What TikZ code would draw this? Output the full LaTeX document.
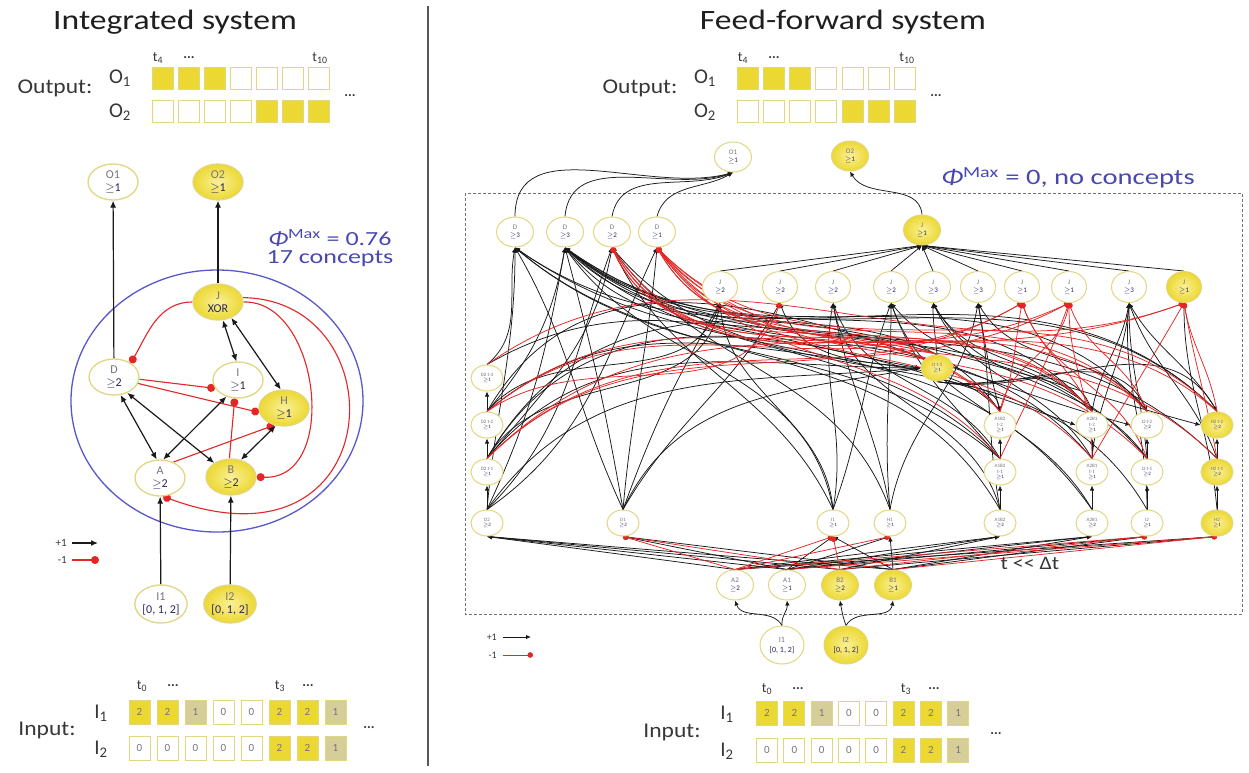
\documentclass[tikz,border=0pt]{standalone}
\usepackage{fontspec}
\setmainfont{Carlito}
\usetikzlibrary{arrows.meta,shapes.geometric}
\definecolor{ycol}{RGB}{236,216,50}
\definecolor{ylight}{RGB}{250,240,150}
\definecolor{yborder}{RGB}{226,214,128}
\definecolor{khaki}{RGB}{214,206,152}
\definecolor{ringblue}{RGB}{88,88,200}
\definecolor{phiblue}{RGB}{72,72,178}
\definecolor{redc}{RGB}{228,38,38}
\definecolor{lblgray}{RGB}{125,112,125}
\definecolor{thrc}{RGB}{40,40,90}
\definecolor{txtc}{RGB}{55,55,55}
\pgfdeclarelayer{back}
\pgfdeclarelayer{bg}
\pgfsetlayers{back,bg,main}
\newcommand{\nlbl}[2]{{\color{lblgray}#1}\\{\color{thrc}$\geq$#2}}
\newcommand{\nlblt}[3]{{\color{lblgray}#1}\\{\color{lblgray}#2}\\{\color{thrc}$\geq$#3}}
\tikzset{
  nd/.style={ellipse, draw=yborder, fill=white, inner sep=0pt, align=center},
  lnd/.style={nd, line width=1.3pt, minimum width=50pt, minimum height=36pt, font=\fontsize{12}{13}\selectfont},
  rnd/.style={nd, line width=1pt, minimum width=37pt, minimum height=30pt, font=\fontsize{7}{8}\selectfont},
  cnd/.style={nd, line width=1pt, minimum width=32pt, minimum height=26pt, font=\fontsize{5}{5.6}\selectfont},
  yel/.style={inner color=ylight, outer color=ycol},
  bx/.style={draw=yborder, line width=1pt, minimum width=21pt, minimum height=22pt, inner sep=0pt, font=\fontsize{11}{11}\selectfont\color{lblgray}},
  bx2/.style={fill=ycol}, bx1/.style={fill=khaki}, bx0/.style={fill=white},
  ob1/.style={fill=ycol}, ob0/.style={fill=white},
  exc/.style={draw=black!90, line width=1.2pt, -{Latex[length=7pt,width=6pt]}},
  exctwo/.style={draw=black!90, line width=1.2pt, {Latex[length=7pt,width=6pt]}-{Latex[length=7pt,width=6pt]}},
  inh/.style={draw=redc, line width=1.1pt, -{Circle[length=8pt]}},
  rexc/.style={draw=black!90, line width=0.75pt, -{Latex[length=5pt,width=4.5pt]}},
  rinh/.style={draw=redc, line width=0.75pt, -{Circle[length=5.5pt]}},
  big/.style={font=\fontsize{21}{24}\selectfont, text=txtc, inner sep=0pt},
  mid/.style={font=\fontsize{14}{15}\selectfont, text=txtc, inner sep=0pt},
  small/.style={font=\fontsize{11}{12}\selectfont, text=txtc, inner sep=0pt},
}
\begin{document}
\begin{tikzpicture}[x=1pt,y=-1pt]
\useasboundingbox (0,0) rectangle (1249,772);
\begin{pgfonlayer}{back}
\fill[white] (0,0) rectangle (1249,772);
\draw[black!65, line width=1.2pt] (428,6) -- (428,766);
\draw[black!55, line width=1pt, dash pattern=on 3pt off 2pt] (465,193) rectangle (1242,614);
\draw[ringblue, line width=1.3pt] (217,401) ellipse [x radius=146pt, y radius=131pt];
\end{pgfonlayer}

% ---------- titles ----------
\node[font=\fontsize{28}{30}\selectfont, text=black!88] (ltitle) at (175,22) {\scalebox{1.2}[1]{Integrated system}};
\node[font=\fontsize{28}{30}\selectfont, text=black!88] (rtitle) at (843,22) {\scalebox{1.2}[1]{Feed-forward system}};

% ---------- output rows ----------
\node[big] (lout) at (55,88) {\scalebox{1.12}[1]{Output:}};
\node[big] (lo1) at (120,78) {O\textsubscript{1}};
\node[big] (lo2) at (120,112) {O\textsubscript{2}};
\foreach \f [count=\k from 0] in {1,1,1,0,0,0,0}
  \node[bx, ob\f] (lob1-\k) at ({162.5+26*\k},78.5) {};
\foreach \f [count=\k from 0] in {0,0,0,0,1,1,1}
  \node[bx, ob\f] (lob2-\k) at ({162.5+26*\k},111.5) {};
\node[mid] (lt4) at (158,58) {t\textsubscript{4}};
\node[mid] (ld1) at (189,58) {\textbf{...}};
\node[mid] (lt10) at (320,58) {t\textsubscript{10}};
\node[mid] (ld2) at (350,96) {\textbf{...}};

\node[big] (rout) at (640,88) {\scalebox{1.12}[1]{Output:}};
\node[big] (ro1) at (705,78) {O\textsubscript{1}};
\node[big] (ro2) at (705,112) {O\textsubscript{2}};
\foreach \f [count=\k from 0] in {1,1,1,0,0,0,0}
  \node[bx, ob\f] (rob1-\k) at ({747.5+26.3*\k},78.5) {};
\foreach \f [count=\k from 0] in {0,0,0,0,1,1,1}
  \node[bx, ob\f] (rob2-\k) at ({747.5+26.3*\k},111.5) {};
\node[mid] (rt4) at (743,58) {t\textsubscript{4}};
\node[mid] (rd1) at (774,58) {\textbf{...}};
\node[mid] (rt10) at (907,58) {t\textsubscript{10}};
\node[mid] (rd2) at (936,96) {\textbf{...}};

% ---------- input rows ----------
\node[big] (lin) at (47,730) {\scalebox{1.12}[1]{Input:}};
\node[big] (li1) at (101,713) {I\textsubscript{1}};
\node[big] (li2) at (101,749) {I\textsubscript{2}};
\foreach \v [count=\k from 0] in {2,2,1,0,0,2,2,1}
  \node[bx, minimum height=24pt, bx\v] (lib1-\k) at ({139.5+28*\k},712) {\v};
\foreach \v [count=\k from 0] in {0,0,0,0,0,2,2,1}
  \node[bx, minimum height=24pt, bx\v] (lib2-\k) at ({139.5+28*\k},748) {\v};
\node[mid] (lt0) at (142,686) {t\textsubscript{0}};
\node[mid] (ld3) at (173,686) {\textbf{...}};
\node[mid] (lt3) at (280,686) {t\textsubscript{3}};
\node[mid] (ld4) at (308,686) {\textbf{...}};
\node[mid] (ld5) at (369,728) {\textbf{...}};

\node[big] (rin) at (672,732) {\scalebox{1.12}[1]{Input:}};
\node[big] (ri1) at (727,714) {I\textsubscript{1}};
\node[big] (ri2) at (727,751) {I\textsubscript{2}};
\foreach \v [count=\k from 0] in {2,2,1,0,0,2,2,1}
  \node[bx, minimum height=24pt, bx\v] (rib1-\k) at ({767+27.3*\k},713) {\v};
\foreach \v [count=\k from 0] in {0,0,0,0,0,2,2,1}
  \node[bx, minimum height=24pt, bx\v] (rib2-\k) at ({767+27.3*\k},750) {\v};
\node[mid] (rt0) at (767,689) {t\textsubscript{0}};
\node[mid] (rd3) at (798,689) {\textbf{...}};
\node[mid] (rt3) at (906,689) {t\textsubscript{3}};
\node[mid] (rd4) at (934,689) {\textbf{...}};
\node[mid] (rd5) at (996,734) {\textbf{...}};

% ---------- phi texts ----------
\node[font=\fontsize{20}{22}\selectfont, text=phiblue] (lphi1) at (330,238) {\scalebox{1.3}[1]{{\itshape Φ}\textsuperscript{Max} = 0.76}};
\node[font=\fontsize{20}{22}\selectfont, text=phiblue] (lphi2) at (330,259) {\scalebox{1.3}[1]{17 concepts}};
\node[font=\fontsize{22}{24}\selectfont, text=phiblue] (rphi) at (1068,178) {\scalebox{1.3}[1]{{\itshape Φ}\textsuperscript{Max} = 0, no concepts}};
\node[font=\fontsize{19}{20}\selectfont, text=txtc] (tau) at (1030,563) {\scalebox{1.15}[1]{t {\textless}{\textless} Δt}};

% ---------- legends ----------
\node[small, anchor=east] (lp) at (67,543) {+1};
\node[small, anchor=east] (lm) at (67,560) {-1};
\coordinate (lpa) at (72,543); \coordinate (lpb) at (98,543);
\coordinate (lma) at (72,560); \coordinate (lmb) at (99,560);
\draw[exc] (lpa) -- (lpb);
\draw[inh] (lma) -- (lmb);
\node[small, anchor=east, font=\fontsize{10}{11}\selectfont] (rp1) at (497,637) {+1};
\node[small, anchor=east, font=\fontsize{10}{11}\selectfont] (rm1) at (497,655) {-1};
\coordinate (rpa) at (503,637); \coordinate (rpb) at (531,637);
\coordinate (rma) at (503,655); \coordinate (rmb) at (533,655);
\draw[rexc, line width=0.9pt] (rpa) -- (rpb);
\draw[rinh, line width=0.9pt] (rma) -- (rmb);

% ---------- left network ----------
\node[lnd] (lO1) at (113,182) {\nlbl{O1}{1}};
\node[lnd, yel] (lO2) at (218,182) {\nlbl{O2}{1}};
\node[lnd, yel] (lJ) at (218,302) {{\color{lblgray}J}\\{\color{thrc}XOR}};
\node[lnd] (lD) at (114,377) {\nlbl{D}{2}};
\node[lnd] (lI) at (238,380) {\nlbl{I}{1}};
\node[lnd, yel] (lH) at (284,408) {\nlbl{H}{1}};
\node[lnd] (lA) at (160,478) {\nlbl{A}{2}};
\node[lnd, yel] (lB) at (231,477) {\nlbl{B}{2}};
\node[lnd, minimum width=46pt, minimum height=38pt] (lIn1) at (161,604) {{\color{lblgray}I1}\\{\color{thrc}[0, 1, 2]}};
\node[lnd, yel, minimum width=46pt, minimum height=38pt] (lIn2) at (230,604) {{\color{lblgray}I2}\\{\color{thrc}[0, 1, 2]}};

\begin{pgfonlayer}{bg}
\draw[exc] (lD) -- (lO1);
\draw[exc] (lJ) -- (lO2);
\draw[exctwo] (lJ.-75) -- (lI.95);
\draw[exctwo] (lJ.-50) -- (lH.100);
\draw[inh] (lJ.west) to[out=180,in=60] (lD.40);
\draw[inh] (lJ.east) .. controls (320,300) and (340,480) .. (lB.east);
\draw[inh] (lJ.10) .. controls (400,300) and (390,580) .. (lA.-80);
\draw[inh] (lD.-5) -- (lI.200);
\draw[inh] (lD.-15) -- (lH.190);
\draw[inh] (lB.95) -- (lI.260);
\draw[inh] (lA.50) -- (lH.240);
\draw[exctwo] (lD.-70) -- (lA.100);
\draw[exctwo] (lD.-50) -- (lB.140);
\draw[exctwo] (lA.80) -- (lI.235);
\draw[exctwo] (lH.-115) -- (lB.60);
\draw[exc] (lIn1) -- (lA);
\draw[exc] (lIn2) -- (lB);
\end{pgfonlayer}

% ---------- right network ----------
\node[rnd] (rO1) at (733,157) {\nlbl{O1}{1}};
\node[rnd, yel] (rO2) at (850,156) {\nlbl{O2}{1}};
\node[rnd] (rDa) at (515,232) {\nlbl{D}{3}};
\node[rnd] (rDb) at (565,232) {\nlbl{D}{3}};
\node[rnd] (rDc) at (612,232) {\nlbl{D}{2}};
\node[rnd] (rDd) at (657,232) {\nlbl{D}{1}};
\node[rnd, yel] (rJ) at (922,230) {\nlbl{J}{1}};
\foreach \x/\th/\n in {720/2/1,780/2/2,833/2/3,891/2/4,933/3/5,978/3/6,1022/1/7,1069/1/8,1129/3/9}
  \node[rnd, minimum width=35pt, minimum height=31pt] (rJ\n) at (\x,287) {\nlbl{J}{\th}};
\node[rnd, yel, minimum width=35pt, minimum height=31pt] (rJ10) at (1184,287) {\nlbl{J}{1}};

\node[cnd] (rD2t3) at (487,378) {\nlbl{D2 t-3}{1}};
\node[cnd] (rD2t2) at (487,425) {\nlbl{D2 t-2}{1}};
\node[cnd] (rD2t1) at (487,472) {\nlbl{D2 t-1}{1}};
\node[cnd] (rD2) at (487,523) {\nlbl{D2}{2}};
\node[cnd] (rD1) at (623,523) {\nlbl{D1}{2}};
\node[cnd] (rI1) at (833,523) {\nlbl{I1}{1}};
\node[cnd] (rH1) at (890,523) {\nlbl{H1}{1}};
\node[cnd, yel] (rIt3) at (937,368) {\nlbl{I1 t-3}{1}};
\node[cnd] (rABa2) at (1000,425) {\nlblt{A1B2}{t-2}{1}};
\node[cnd] (rABa1) at (1000,472) {\nlblt{A1B2}{t-1}{1}};
\node[cnd] (rABa) at (1000,523) {\nlbl{A1B2}{2}};
\node[cnd] (rABb2) at (1092,425) {\nlblt{A2B1}{t-2}{1}};
\node[cnd] (rABb1) at (1092,472) {\nlblt{A2B1}{t-1}{1}};
\node[cnd] (rABb) at (1092,523) {\nlbl{A2B1}{2}};
\node[cnd] (rI2t2) at (1147,425) {\nlbl{I2 t-2}{2}};
\node[cnd] (rI2t1) at (1147,472) {\nlbl{I2 t-1}{2}};
\node[cnd] (rI2) at (1147,523) {\nlbl{I2}{1}};
\node[cnd, yel] (rH2t2) at (1217,425) {\nlbl{H2 t-2}{2}};
\node[cnd, yel] (rH2t1) at (1217,472) {\nlbl{H2 t-1}{2}};
\node[cnd, yel] (rH2) at (1217,523) {\nlbl{H2}{1}};
\node[rnd] (rA2) at (735,585) {\nlbl{A2}{2}};
\node[rnd] (rA1) at (787,585) {\nlbl{A1}{1}};
\node[rnd, yel] (rB2) at (840,585) {\nlbl{B2}{2}};
\node[rnd, yel] (rB1) at (893,585) {\nlbl{B1}{1}};
\node[rnd, minimum width=44pt, minimum height=38pt, font=\fontsize{8}{10}\selectfont] (rIn1) at (782,645) {{\color{lblgray}I1}\\{\color{thrc}[0, 1, 2]}};
\node[rnd, yel, minimum width=44pt, minimum height=38pt, font=\fontsize{8}{10}\selectfont] (rIn2) at (846,645) {{\color{lblgray}I2}\\{\color{thrc}[0, 1, 2]}};

\begin{pgfonlayer}{bg}
% to outputs
\foreach \s/\o/\i in {rDa/90/-165, rDb/85/-162, rDc/80/-158, rDd/75/-150}
  \draw[rexc] (\s.north) to[out=\o,in=\i] (rO1.south);
\draw[rexc] (rJ.north) to[out=95,in=-60] (rO2.south);
\foreach \n in {1,...,10}
  \draw[rexc] (rJ\n.north) -- (rJ.south);
% chains
\draw[rexc] (rD2) -- (rD2t1);
\draw[rexc] (rD2t1) -- (rD2t2);
\draw[rexc] (rD2t2) -- (rD2t3);
\draw[rexc] (rABa) -- (rABa1);
\draw[rexc] (rABa1) -- (rABa2);
\draw[rexc] (rABb) -- (rABb1);
\draw[rexc] (rABb1) -- (rABb2);
\draw[rexc] (rI2) -- (rI2t1);
\draw[rexc] (rI2t1) -- (rI2t2);
\draw[rexc] (rH2) -- (rH2t1);
\draw[rexc] (rH2t1) -- (rH2t2);
% inputs
\draw[rexc] (rIn1.north) to[out=120,in=-70] (rA2.south);
\draw[rexc] (rIn1.north) to[out=95,in=-85] (rA1.south);
\draw[rexc] (rIn2.north) to[out=110,in=-80] (rB2.south);
\draw[rexc] (rIn2.north) to[out=60,in=-100] (rB1.south);
% bottom band
\foreach \s/\t in {rA2/rD2, rA1/rD2, rB2/rD2, rB1/rD2, rA1/rD1, rB1/rD1, rA1/rI1, rB1/rI1, rB1/rH1, rA1/rH1, rA1/rABa, rB2/rABa, rA2/rABa, rA2/rABb, rB1/rABb, rA1/rABb, rA1/rI2, rB1/rI2, rA2/rH2, rB2/rH2}
  \draw[rexc] (\s.north) -- (\t.south);
\foreach \s/\t in {rA2/rD1, rB2/rD1, rA2/rI1, rB2/rI1, rA2/rH1, rA2/rI2, rB2/rI2, rA1/rH2, rB1/rH2}
  \draw[rinh] (\s.north) -- (\t.south);
% upward excitatory
\foreach \s/\t/\o/\i in {rD2/rDa/85/-90, rD2/rDb/65/-100, rD2/rDc/45/-110, rD2/rDd/35/-115,
  rD2t3/rDa/40/-100, rD2t2/rDb/50/-100, rD2t1/rDc/50/-100,
  rD1/rDa/115/-60, rD1/rDb/100/-75, rD1/rDd/85/-95,
  rI1/rDb/100/-55, rI1/rDc/115/-65, rH1/rDc/110/-55,
  rIt3/rDb/160/-50, rABa2/rDb/125/-45, rABb2/rDb/130/-40, rI2t2/rDb/130/-38,
  rH2t2/rDa/135/-35, rABa1/rDa/140/-40, rABa/rDa/120/-40,
  rABb1/rDb/130/-40, rI2t1/rDb/130/-38, rH2t1/rDb/135/-35, rABa1/rDb/135/-42,
  rABb/rDa/125/-35, rI2/rDc/120/-50, rH2t2/rDb/135/-36,
  rD2t1/rJ1/60/-100, rI1/rJ1/95/-85, rD1/rJ1/70/-120, rD2t2/rJ1/50/-110,
  rABa2/rJ2/130/-70, rD1/rJ2/60/-120, rABa/rJ3/105/-80, rI1/rJ3/80/-100,
  rH1/rJ3/100/-80, rABa1/rJ3/120/-70,
  rH1/rJ4/95/-90, rABa1/rJ4/130/-70, rABb/rJ4/120/-70, rI1/rJ4/70/-110,
  rIt3/rJ5/95/-90, rABb2/rJ5/130/-60, rABb1/rJ5/120/-65, rI2t1/rJ5/125/-60,
  rH1/rJ6/80/-100, rABa2/rJ6/105/-80, rI2t2/rJ6/125/-60, rABa/rJ6/100/-80,
  rABb1/rJ9/85/-95, rI2t1/rJ9/95/-90, rH2t2/rJ9/120/-60, rABb2/rJ4/140/-50,
  rH2t1/rJ9/110/-70, rABb2/rJ9/80/-100,
  rI2/rJ9/90/-95, rH2/rJ10/95/-90}
  \draw[rexc] (\s.north) to[out=\o,in=\i] (\t.south);
\foreach \s/\o/\i in {rD2t1/50/180, rD2t2/40/175, rD2/55/185, rD1/65/190, rD2t3/30/170}
  \draw[rexc] (\s.north) to[out=\o,in=\i] (rIt3.west);
\foreach \t/\i in {rH2t2/120, rI2t2/115, rABb2/110, rABa2/100}
  \draw[rexc] (rIt3.south) to[out=-10,in=\i] (\t.north);
\foreach \s/\t/\i in {rD2t1/rH2t2/165, rD2t2/rI2t2/165, rD2t1/rABb2/160}
  \draw[rexc] (\s.north) to[out=60,in=\i] (\t.west);
% upward inhibitory
\foreach \s/\t/\o/\i in {rIt3/rDd/165/-60, rABa2/rDd/130/-60, rABb2/rDd/132/-55,
  rI2t2/rDd/132/-50, rH2t2/rDd/135/-45, rABa2/rDc/128/-65, rH2t2/rDc/138/-55,
  rI2t2/rDc/134/-60, rIt3/rDc/160/-65, rABa1/rDd/130/-55, rABb1/rDd/132/-52,
  rH2t1/rDd/135/-45, rI2t1/rDd/134/-48, rABb2/rDc/130/-60,
  rD2t1/rJ7/45/-150, rD2t2/rJ8/40/-155, rD2t1/rJ10/45/-160,
  rD2t1/rJ8/45/-152, rD2t2/rJ7/40/-150, rD2t3/rJ10/35/-160,
  rABa2/rJ7/70/-100, rABb2/rJ7/115/-70, rABa1/rJ8/65/-110, rI2t2/rJ8/110/-70,
  rABa2/rJ8/80/-100, rI2t1/rJ7/110/-70, rABb1/rJ8/90/-90, rH2t2/rJ10/100/-80,
  rABb1/rJ10/60/-120, rD2t2/rJ2/35/-110, rH2t1/rJ10/100/-80}
  \draw[rinh] (\s.north) to[out=\o,in=\i] (\t.south);
\end{pgfonlayer}
\end{tikzpicture}
\end{document}
